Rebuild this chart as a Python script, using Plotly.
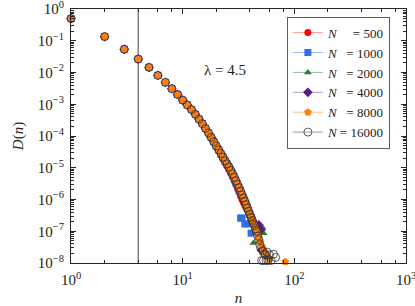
import plotly.graph_objects as go

# ---------------- data ----------------
n_head = [1, 2, 3, 4, 5, 6, 7, 8, 9, 10, 11, 12, 13, 14, 15, 16, 17, 18, 19]
D_head = [0.50, 0.135, 0.054, 0.0266, 0.0145, 0.0081, 0.0049, 0.0031, 0.00204,
          0.00135, 9.5e-4, 6.8e-4, 4.8e-4, 3.4e-4, 2.45e-4, 1.74e-4, 1.26e-4,
          9.1e-5, 6.6e-5]

n_500 = [20, 21, 22, 23, 24, 25, 26, 27, 28, 29, 30, 31, 32, 33, 34, 35, 36, 37, 38, 39]
D_500 = [4.7e-5, 3.5e-5, 2.6e-5, 1.95e-5, 1.45e-5, 1.12e-5, 8.6e-6, 6.6e-6, 5.0e-6,
         3.8e-6, 2.9e-6, 2.2e-6, 1.7e-6, 1.3e-6, 1.0e-6, 8.0e-7, 6.6e-7, 5.5e-7, 4.8e-7, 4.2e-7]

n_1000 = [20, 21, 22, 23, 24, 25, 26, 27, 28, 29, 30, 31, 32, 33, 34, 36, 38, 41]
D_1000 = [4.8e-5, 3.6e-5, 2.7e-5, 2.05e-5, 1.58e-5, 1.25e-5, 9.8e-6, 7.6e-6, 5.9e-6,
          4.5e-6, 3.4e-6, 2.6e-6, 1.9e-6, 2.6e-7, 2.6e-7, 1.7e-7, 1.7e-7, 8.7e-8]

n_2000 = [20, 21, 22, 23, 24, 25, 26, 27, 28, 29, 30, 31, 32, 33, 34, 35, 36, 37, 38,
          39, 40, 41, 42, 43, 47, 52, 53]
D_2000 = [4.9e-5, 3.7e-5, 2.8e-5, 2.15e-5, 1.65e-5, 1.3e-5, 1.03e-5, 8.1e-6, 6.3e-6,
          4.9e-6, 3.8e-6, 2.9e-6, 2.25e-6, 1.75e-6, 1.35e-6, 1.05e-6, 8.3e-7, 6.5e-7,
          5.1e-7, 4.0e-7, 3.1e-7, 2.6e-7, 2.1e-7, 4.3e-8, 1.0e-7, 1.3e-7, 8.7e-8]

n_4000 = [20, 21, 22, 23, 24, 25, 26, 27, 28, 29, 30, 31, 32, 33, 34, 35, 36, 37, 38,
          39, 40, 41, 42, 43, 44, 45, 46, 48, 50, 51]
D_4000 = [4.9e-5, 3.7e-5, 2.8e-5, 2.15e-5, 1.66e-5, 1.32e-5, 1.05e-5, 8.3e-6, 6.5e-6,
          5.0e-6, 3.9e-6, 3.0e-6, 2.35e-6, 1.82e-6, 1.41e-6, 1.12e-6, 8.9e-7, 6.9e-7,
          5.4e-7, 4.3e-7, 3.4e-7, 2.75e-7, 2.2e-7, 1.8e-7, 1.5e-7, 1.2e-7, 1.0e-7,
          1.6e-7, 1.1e-7, 2.6e-8]

n_8000 = [20, 21, 22, 23, 24, 25, 26, 27, 28, 29, 30, 31, 32, 33, 34, 35, 36, 37, 38,
          39, 40, 41, 42, 43, 44, 45, 46, 47, 48, 49, 50, 51, 52, 53, 55, 57, 60, 83]
D_8000 = [4.9e-5, 3.7e-5, 2.8e-5, 2.15e-5, 1.66e-5, 1.32e-5, 1.05e-5, 8.3e-6, 6.5e-6,
          5.0e-6, 3.9e-6, 3.0e-6, 2.35e-6, 1.82e-6, 1.41e-6, 1.12e-6, 8.9e-7, 6.9e-7,
          5.4e-7, 4.3e-7, 3.4e-7, 2.75e-7, 2.2e-7, 1.8e-7, 1.5e-7, 1.2e-7, 1.0e-7,
          8.0e-8, 6.5e-8, 5.0e-8, 4.5e-8, 3.5e-8, 3.0e-8, 2.5e-8, 2.0e-8, 1.6e-8, 1.3e-8, 1.1e-8]

n_16000 = [20, 21, 22, 23, 24, 25, 26, 27, 28, 29, 30, 31, 32, 33, 34, 35, 36, 37, 38,
           39, 40, 41, 42, 43, 44, 45, 46, 47, 48, 49, 50, 51, 52, 53, 54, 55, 56, 57,
           58, 60, 62, 65, 68]
D_16000 = [4.9e-5, 3.7e-5, 2.8e-5, 2.15e-5, 1.66e-5, 1.32e-5, 1.05e-5, 8.3e-6, 6.5e-6,
           5.0e-6, 3.9e-6, 3.0e-6, 2.35e-6, 1.82e-6, 1.41e-6, 1.12e-6, 8.9e-7, 6.9e-7,
           5.4e-7, 4.3e-7, 3.4e-7, 2.75e-7, 2.2e-7, 1.8e-7, 1.5e-7, 1.2e-7, 1.0e-7,
           7.0e-8, 5.5e-8, 3.8e-8, 2.9e-8, 1.2e-8, 2.4e-8, 1.2e-8, 2.0e-8, 1.8e-8,
           1.2e-8, 2.2e-8, 1.2e-8, 1.8e-8, 1.2e-8, 1.9e-8, 1.5e-8]

sizes = ["500", "1000", "2000", "4000", "8000", "16000"]
threshold_n = 4
lambda_text = "λ = 4.5"

x_tickvals = [1, 10, 100, 1000]
x_ticktext = ["10<sup>0</sup>", "10<sup>1</sup>", "10<sup>2</sup>", "10<sup>3</sup>"]
y_tickvals = [1e0, 1e-1, 1e-2, 1e-3, 1e-4, 1e-5, 1e-6, 1e-7, 1e-8]
y_ticktext = ["10<sup>0</sup>", "10<sup>−1</sup>", "10<sup>−2</sup>", "10<sup>−3</sup>",
              "10<sup>−4</sup>", "10<sup>−5</sup>", "10<sup>−6</sup>", "10<sup>−7</sup>",
              "10<sup>−8</sup>"]

# ---------------- styling ----------------
FONT = "Liberation Serif, DejaVu Serif, serif"
AX = "#262626"
TXT = "#222222"

series = [
    (n_500, D_500, dict(symbol="circle", size=7, color="#ff0000")),
    (n_1000, D_1000, dict(symbol="square", size=7, color="#2f6fe6")),
    (n_2000, D_2000, dict(symbol="triangle-up", size=7, color="#2d7a33")),
    (n_4000, D_4000, dict(symbol="diamond", size=7.5, color="#5b1a8b")),
    (n_8000, D_8000, dict(symbol="pentagon", size=8, color="#ff7f0e")),
    (n_16000, D_16000, dict(symbol="circle-open", size=8, color="#333333",
                            line=dict(width=0.8, color="#333333"))),
]
legend_line = ["#ff9a9a", "#9ab8f2", "#98c09b", "#b69ad0", "#ffc08a", "#9a9a9a"]

fig = go.Figure()
for (nx, dy, mk) in series:
    fig.add_trace(go.Scatter(x=n_head + nx, y=D_head + dy, mode="markers",
                             marker=mk, showlegend=False, cliponaxis=False))

for (nx, dy, mk), lc, s in zip(series, legend_line, sizes):
    pad = "\u2007" * (5 - len(s))
    fig.add_trace(go.Scatter(x=[None], y=[None], mode="lines+markers",
                             marker=mk, line=dict(color=lc, width=1),
                             name="<i>N</i> " + pad + "= " + s))

fig.add_shape(type="line", xref="x", yref="paper", x0=threshold_n, x1=threshold_n,
              y0=0, y1=1, line=dict(color="#6e6e6e", width=1.3), layer="below")

fig.add_annotation(text=lambda_text, xref="paper", yref="paper", x=0.46, y=0.80,
                   showarrow=False, font=dict(family=FONT, size=15, color=TXT))

axis_common = dict(
    type="log", showline=True, linecolor=AX, linewidth=1, mirror="ticks",
    ticks="inside", ticklen=5, tickcolor=AX, tickwidth=1, automargin=False,
    showgrid=False, zeroline=False, ticklabeloverflow="allow",
    tickfont=dict(family=FONT, size=15, color=TXT),
)

fig.update_xaxes(**axis_common, range=[0, 3], tickvals=x_tickvals, ticktext=x_ticktext,
                 ticklabelstandoff=3,
                 minor=dict(ticks="inside", ticklen=3, tickcolor=AX,
                            tickvals=[m * 10 ** d for d in range(3) for m in (2, 4, 6, 8)]),
                 title=dict(text="<i>n</i>", font=dict(family=FONT, size=15, color=TXT),
                            standoff=6))
fig.update_yaxes(**axis_common, range=[-8, 0], tickvals=y_tickvals, ticktext=y_ticktext,
                 ticklabelstandoff=3,
                 minor=dict(ticks="inside", ticklen=3, tickcolor=AX,
                            tickvals=[m * 10 ** (-d) for d in range(1, 9) for m in range(2, 10)]),
                 title=dict(text="<i>D</i>(<i>n</i>)", font=dict(family=FONT, size=15, color=TXT),
                            standoff=10))

fig.update_layout(
    width=415, height=306,
    margin=dict(l=71, r=9, t=9, b=43),
    paper_bgcolor="white", plot_bgcolor="white",
    legend=dict(x=0.645, y=0.969, xanchor="left", yanchor="top",
                bgcolor="white", bordercolor="#333", borderwidth=0.8,
                font=dict(family=FONT, size=13, color=TXT),
                tracegroupgap=0, itemwidth=30),
)

fig.write_html("out.html", config={"displayModeBar": False},
               post_script="document.body.style.margin='0';")
